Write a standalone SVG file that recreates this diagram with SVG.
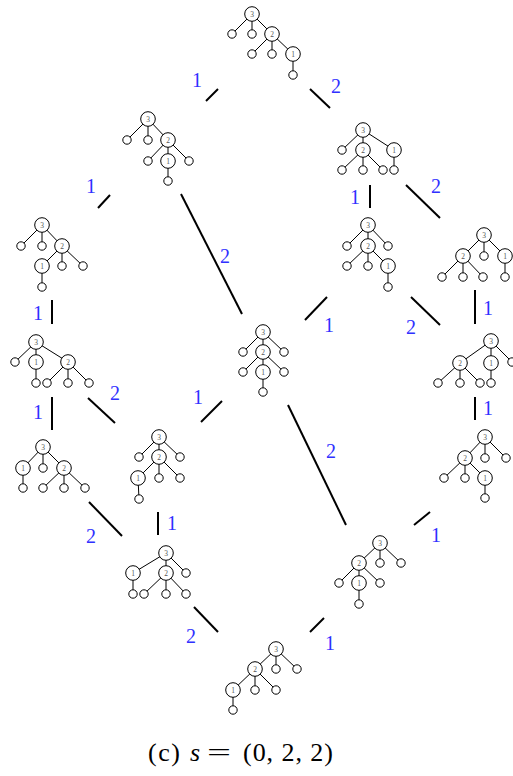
<svg xmlns="http://www.w3.org/2000/svg" width="513" height="776" viewBox="0 0 513 776">
<style>
.e{stroke:#000;stroke-width:1;fill:none}
.n{fill:#fff;stroke:#000;stroke-width:1}
.l{fill:#fff;stroke:#000;stroke-width:1}
.t{font-family:"Liberation Serif",serif;font-size:7.5px;fill:#555;text-anchor:middle}
.c{stroke:#000;stroke-width:2;fill:none}
.lb{font-family:"Liberation Serif",serif;font-size:20px;fill:#3030ff;text-anchor:middle}
.cap{font-family:"Liberation Serif",serif;font-size:26px;fill:#000}
</style>
<rect width="513" height="776" fill="#fff"/>
<g id="connectors">
<line class="c" x1="206" y1="101" x2="218" y2="89"/>
<line class="c" x1="310" y1="89" x2="330" y2="108"/>
<line class="c" x1="98" y1="208" x2="110" y2="195"/>
<line class="c" x1="181" y1="194" x2="242" y2="314"/>
<line class="c" x1="370" y1="185" x2="370" y2="208"/>
<line class="c" x1="406" y1="185" x2="440" y2="218"/>
<line class="c" x1="52" y1="300" x2="52" y2="324"/>
<line class="c" x1="305" y1="320" x2="327" y2="297"/>
<line class="c" x1="411" y1="297" x2="440" y2="325"/>
<line class="c" x1="475" y1="290" x2="475" y2="324"/>
<line class="c" x1="52" y1="397" x2="52" y2="430"/>
<line class="c" x1="88" y1="398" x2="115" y2="423"/>
<line class="c" x1="201" y1="422" x2="222" y2="401"/>
<line class="c" x1="288" y1="405" x2="346" y2="525"/>
<line class="c" x1="475" y1="397" x2="475" y2="420"/>
<line class="c" x1="89" y1="502" x2="122" y2="536"/>
<line class="c" x1="158" y1="512" x2="158" y2="535"/>
<line class="c" x1="414" y1="525" x2="430" y2="512"/>
<line class="c" x1="194" y1="607" x2="218" y2="632"/>
<line class="c" x1="310" y1="632" x2="324" y2="618"/>
<text class="lb" x="197" y="87">1</text>
<text class="lb" x="336" y="93">2</text>
<text class="lb" x="91" y="193">1</text>
<text class="lb" x="225" y="263">2</text>
<text class="lb" x="355" y="204">1</text>
<text class="lb" x="436" y="193">2</text>
<text class="lb" x="38" y="320">1</text>
<text class="lb" x="329" y="332">1</text>
<text class="lb" x="411" y="334">2</text>
<text class="lb" x="488" y="315">1</text>
<text class="lb" x="115" y="400">2</text>
<text class="lb" x="38" y="419">1</text>
<text class="lb" x="198" y="404">1</text>
<text class="lb" x="331" y="458">2</text>
<text class="lb" x="488" y="415">1</text>
<text class="lb" x="91" y="543">2</text>
<text class="lb" x="172" y="530">1</text>
<text class="lb" x="436" y="542">1</text>
<text class="lb" x="191" y="643">2</text>
<text class="lb" x="330" y="650">1</text>
</g>
<g id="t1">
<path class="e" d="M252,14L232,34M252,14L252,34M252,14L272,34M272,34L252,54M272,34L272,54M272,34L293,54M293,54L293,75"/>
<circle class="l" cx="232" cy="34" r="4.2"/><circle class="l" cx="252" cy="34" r="4.2"/><circle class="l" cx="252" cy="54" r="4.2"/><circle class="l" cx="272" cy="54" r="4.2"/><circle class="l" cx="293" cy="75" r="4.2"/>
<circle class="n" cx="252" cy="14" r="7.3"/><circle class="n" cx="272" cy="34" r="7.3"/><circle class="n" cx="293" cy="54" r="7.3"/>
<text class="t" x="252" y="16.7">3</text><text class="t" x="272" y="36.7">2</text><text class="t" x="293" y="56.7">1</text>
</g>
<g id="t2">
<path class="e" d="M148,119L127,140M148,119L148,140M148,119L168,140M168,140L148,161M168,140L168,161M168,140L189,161M168,161L168,181"/>
<circle class="l" cx="127" cy="140" r="4.2"/><circle class="l" cx="148" cy="140" r="4.2"/><circle class="l" cx="148" cy="161" r="4.2"/><circle class="l" cx="189" cy="161" r="4.2"/><circle class="l" cx="168" cy="181" r="4.2"/>
<circle class="n" cx="148" cy="119" r="7.3"/><circle class="n" cx="168" cy="140" r="7.3"/><circle class="n" cx="168" cy="161" r="7.3"/>
<text class="t" x="148" y="121.7">3</text><text class="t" x="168" y="142.7">2</text><text class="t" x="168" y="163.7">1</text>
</g>
<g id="t3">
<path class="e" d="M363,130L342,150M363,130L363,150M363,130L394,150M363,150L342,170M363,150L363,170M363,150L383,170M394,150L394,170"/>
<circle class="l" cx="342" cy="150" r="4.2"/><circle class="l" cx="342" cy="170" r="4.2"/><circle class="l" cx="363" cy="170" r="4.2"/><circle class="l" cx="383" cy="170" r="4.2"/><circle class="l" cx="394" cy="170" r="4.2"/>
<circle class="n" cx="363" cy="130" r="7.3"/><circle class="n" cx="363" cy="150" r="7.3"/><circle class="n" cx="394" cy="150" r="7.3"/>
<text class="t" x="363" y="132.7">3</text><text class="t" x="363" y="152.7">2</text><text class="t" x="394" y="152.7">1</text>
</g>
<g id="t4">
<path class="e" d="M42,225L21,246M42,225L42,246M42,225L62,246M62,246L42,266M62,246L62,266M62,246L83,266M42,266L42,287"/>
<circle class="l" cx="21" cy="246" r="4.2"/><circle class="l" cx="42" cy="246" r="4.2"/><circle class="l" cx="62" cy="266" r="4.2"/><circle class="l" cx="83" cy="266" r="4.2"/><circle class="l" cx="42" cy="287" r="4.2"/>
<circle class="n" cx="42" cy="225" r="7.3"/><circle class="n" cx="62" cy="246" r="7.3"/><circle class="n" cx="42" cy="266" r="7.3"/>
<text class="t" x="42" y="227.7">3</text><text class="t" x="62" y="248.7">2</text><text class="t" x="42" y="268.7">1</text>
</g>
<g id="t5">
<path class="e" d="M368,225L347,246M368,225L368,246M368,225L388,246M368,246L347,266M368,246L368,266M368,246L388,266M388,266L388,287"/>
<circle class="l" cx="347" cy="246" r="4.2"/><circle class="l" cx="388" cy="246" r="4.2"/><circle class="l" cx="347" cy="266" r="4.2"/><circle class="l" cx="368" cy="266" r="4.2"/><circle class="l" cx="388" cy="287" r="4.2"/>
<circle class="n" cx="368" cy="225" r="7.3"/><circle class="n" cx="368" cy="246" r="7.3"/><circle class="n" cx="388" cy="266" r="7.3"/>
<text class="t" x="368" y="227.7">3</text><text class="t" x="368" y="248.7">2</text><text class="t" x="388" y="268.7">1</text>
</g>
<g id="t6">
<path class="e" d="M484,235L463,256M484,235L484,256M484,235L505,256M463,256L442,277M463,256L463,277M463,256L483,277M505,256L505,277"/>
<circle class="l" cx="484" cy="256" r="4.2"/><circle class="l" cx="442" cy="277" r="4.2"/><circle class="l" cx="463" cy="277" r="4.2"/><circle class="l" cx="483" cy="277" r="4.2"/><circle class="l" cx="505" cy="277" r="4.2"/>
<circle class="n" cx="484" cy="235" r="7.3"/><circle class="n" cx="463" cy="256" r="7.3"/><circle class="n" cx="505" cy="256" r="7.3"/>
<text class="t" x="484" y="237.7">3</text><text class="t" x="463" y="258.7">2</text><text class="t" x="505" y="258.7">1</text>
</g>
<g id="t7">
<path class="e" d="M36,342L15,362M36,342L36,362M36,342L68,362M36,362L36,383M68,362L47,383M68,362L68,383M68,362L89,383"/>
<circle class="l" cx="15" cy="362" r="4.2"/><circle class="l" cx="36" cy="383" r="4.2"/><circle class="l" cx="47" cy="383" r="4.2"/><circle class="l" cx="68" cy="383" r="4.2"/><circle class="l" cx="89" cy="383" r="4.2"/>
<circle class="n" cx="36" cy="342" r="7.3"/><circle class="n" cx="36" cy="362" r="7.3"/><circle class="n" cx="68" cy="362" r="7.3"/>
<text class="t" x="36" y="344.7">3</text><text class="t" x="36" y="364.7">1</text><text class="t" x="68" y="364.7">2</text>
</g>
<g id="t8">
<path class="e" d="M263,332L243,352M263,332L263,352M263,332L284,352M263,352L243,372M263,352L263,372M263,352L284,372M263,372L263,392"/>
<circle class="l" cx="243" cy="352" r="4.2"/><circle class="l" cx="284" cy="352" r="4.2"/><circle class="l" cx="243" cy="372" r="4.2"/><circle class="l" cx="284" cy="372" r="4.2"/><circle class="l" cx="263" cy="392" r="4.2"/>
<circle class="n" cx="263" cy="332" r="7.3"/><circle class="n" cx="263" cy="352" r="7.3"/><circle class="n" cx="263" cy="372" r="7.3"/>
<text class="t" x="263" y="334.7">3</text><text class="t" x="263" y="354.7">2</text><text class="t" x="263" y="374.7">1</text>
</g>
<g id="t9">
<path class="e" d="M491,341L460,363M491,341L491,363M491,341L512,362M460,363L438,383M460,363L460,383M460,363L480,383M491,363L491,383"/>
<circle class="l" cx="512" cy="362" r="4.2"/><circle class="l" cx="438" cy="383" r="4.2"/><circle class="l" cx="460" cy="383" r="4.2"/><circle class="l" cx="480" cy="383" r="4.2"/><circle class="l" cx="491" cy="383" r="4.2"/>
<circle class="n" cx="491" cy="341" r="7.3"/><circle class="n" cx="460" cy="363" r="7.3"/><circle class="n" cx="491" cy="363" r="7.3"/>
<text class="t" x="491" y="343.7">3</text><text class="t" x="460" y="365.7">2</text><text class="t" x="491" y="365.7">1</text>
</g>
<g id="t10">
<path class="e" d="M43,447L23,468M43,447L43,468M43,447L64,468M23,468L23,488M64,468L43,488M64,468L64,488M64,468L85,488"/>
<circle class="l" cx="43" cy="468" r="4.2"/><circle class="l" cx="23" cy="488" r="4.2"/><circle class="l" cx="43" cy="488" r="4.2"/><circle class="l" cx="64" cy="488" r="4.2"/><circle class="l" cx="85" cy="488" r="4.2"/>
<circle class="n" cx="43" cy="447" r="7.3"/><circle class="n" cx="23" cy="468" r="7.3"/><circle class="n" cx="64" cy="468" r="7.3"/>
<text class="t" x="43" y="449.7">3</text><text class="t" x="23" y="470.7">1</text><text class="t" x="64" y="470.7">2</text>
</g>
<g id="t11">
<path class="e" d="M159,437L139,457M159,437L159,457M159,437L180,457M159,457L138,478M159,457L159,478M159,457L180,478M138,478L139,499"/>
<circle class="l" cx="139" cy="457" r="4.2"/><circle class="l" cx="180" cy="457" r="4.2"/><circle class="l" cx="159" cy="478" r="4.2"/><circle class="l" cx="180" cy="478" r="4.2"/><circle class="l" cx="139" cy="499" r="4.2"/>
<circle class="n" cx="159" cy="437" r="7.3"/><circle class="n" cx="159" cy="457" r="7.3"/><circle class="n" cx="138" cy="478" r="7.3"/>
<text class="t" x="159" y="439.7">3</text><text class="t" x="159" y="459.7">2</text><text class="t" x="138" y="480.7">1</text>
</g>
<g id="t12">
<path class="e" d="M485,437L465,458M485,437L485,458M485,437L506,458M465,458L444,478M465,458L465,478M465,458L485,478M485,478L485,498"/>
<circle class="l" cx="485" cy="458" r="4.2"/><circle class="l" cx="506" cy="458" r="4.2"/><circle class="l" cx="444" cy="478" r="4.2"/><circle class="l" cx="465" cy="478" r="4.2"/><circle class="l" cx="485" cy="498" r="4.2"/>
<circle class="n" cx="485" cy="437" r="7.3"/><circle class="n" cx="465" cy="458" r="7.3"/><circle class="n" cx="485" cy="478" r="7.3"/>
<text class="t" x="485" y="439.7">3</text><text class="t" x="465" y="460.7">2</text><text class="t" x="485" y="480.7">1</text>
</g>
<g id="t13">
<path class="e" d="M166,553L133,573M166,553L166,573M166,553L186,573M133,573L133,594M166,573L144,594M166,573L166,594M166,573L186,594"/>
<circle class="l" cx="186" cy="573" r="4.2"/><circle class="l" cx="133" cy="594" r="4.2"/><circle class="l" cx="144" cy="594" r="4.2"/><circle class="l" cx="166" cy="594" r="4.2"/><circle class="l" cx="186" cy="594" r="4.2"/>
<circle class="n" cx="166" cy="553" r="7.3"/><circle class="n" cx="133" cy="573" r="7.3"/><circle class="n" cx="166" cy="573" r="7.3"/>
<text class="t" x="166" y="555.7">3</text><text class="t" x="133" y="575.7">1</text><text class="t" x="166" y="575.7">2</text>
</g>
<g id="t14">
<path class="e" d="M380,543L359,563M380,543L380,563M380,543L401,563M359,563L339,583M359,563L359,583M359,563L380,583M359,583L359,604"/>
<circle class="l" cx="380" cy="563" r="4.2"/><circle class="l" cx="401" cy="563" r="4.2"/><circle class="l" cx="339" cy="583" r="4.2"/><circle class="l" cx="380" cy="583" r="4.2"/><circle class="l" cx="359" cy="604" r="4.2"/>
<circle class="n" cx="380" cy="543" r="7.3"/><circle class="n" cx="359" cy="563" r="7.3"/><circle class="n" cx="359" cy="583" r="7.3"/>
<text class="t" x="380" y="545.7">3</text><text class="t" x="359" y="565.7">2</text><text class="t" x="359" y="585.7">1</text>
</g>
<g id="t15">
<path class="e" d="M276,649L255,669M276,649L276,669M276,649L297,669M255,669L233,690M255,669L255,690M255,669L276,690M233,690L233,710"/>
<circle class="l" cx="276" cy="669" r="4.2"/><circle class="l" cx="297" cy="669" r="4.2"/><circle class="l" cx="255" cy="690" r="4.2"/><circle class="l" cx="276" cy="690" r="4.2"/><circle class="l" cx="233" cy="710" r="4.2"/>
<circle class="n" cx="276" cy="649" r="7.3"/><circle class="n" cx="255" cy="669" r="7.3"/><circle class="n" cx="233" cy="690" r="7.3"/>
<text class="t" x="276" y="651.7">3</text><text class="t" x="255" y="671.7">2</text><text class="t" x="233" y="692.7">1</text>
</g>
<g id="caption">
<text class="cap" x="148" y="761" textLength="32">(c)</text>
<text class="cap" x="190" y="761" font-style="italic">s</text>
<text class="cap" x="207" y="761" textLength="24" lengthAdjust="spacingAndGlyphs">=</text>
<text class="cap" x="243" y="761" textLength="90">(0, 2, 2)</text>
</g>
</svg>
